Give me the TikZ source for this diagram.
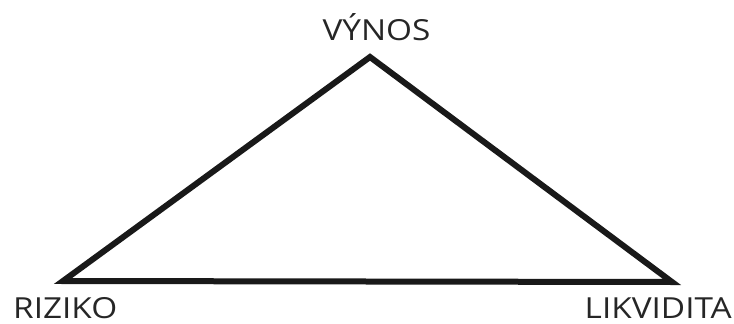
\documentclass[tikz,border=0pt]{standalone}
\usepackage{fontspec}
\setmainfont{Open Sans}
\newcommand{\wideTxt}[1]{\scalebox{1.15}[1]{#1}}
\begin{document}
\begin{tikzpicture}[x=1pt,y=-1pt,
  lbl/.style={inner sep=0pt,font=\fontsize{29}{32}\selectfont,text=black!85},
  edge/.style={line width=6pt,line join=miter,black!90}]
\useasboundingbox (0,0) rectangle (734,324);
\coordinate (top) at (370,57);
\coordinate (left) at (63,281);
\coordinate (right) at (672,282);
\draw[edge] (top) -- (left) -- (right) -- cycle;
\node[lbl,anchor=base] (vynos) at (376.5,40) {\wideTxt{VÝNOS}};
\node[lbl,anchor=base west] (riziko) at (13,318) {\wideTxt{RIZIKO}};
\node[lbl,anchor=base east] (likv) at (732,318) {\wideTxt{LIKVIDITA}};
\end{tikzpicture}
\end{document}
